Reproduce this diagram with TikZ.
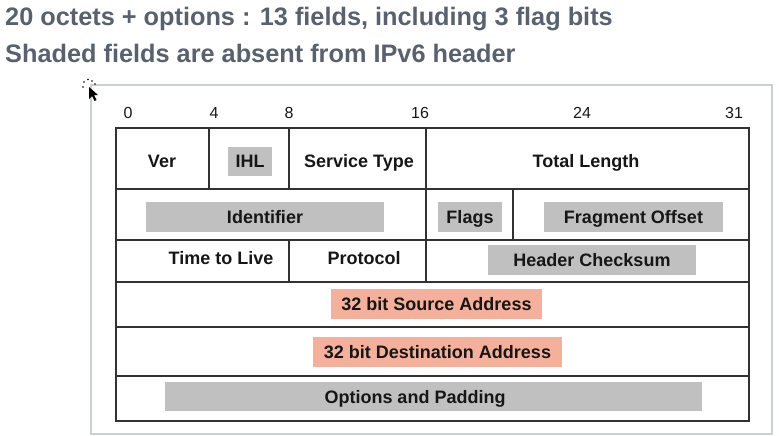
\documentclass[tikz,border=0pt]{standalone}
\usepackage{fontspec}
\setmainfont{Liberation Sans}
\definecolor{titlec}{RGB}{88,97,112}
\definecolor{framec}{RGB}{200,210,208}
\definecolor{gridc}{RGB}{50,50,50}
\definecolor{txt}{RGB}{22,22,22}
\definecolor{shade}{RGB}{192,192,192}
\definecolor{salmon}{RGB}{244,176,154}
\begin{document}
\begin{tikzpicture}[x=1pt,y=-1pt,
  title/.style={font=\fontsize{25.3}{28}\selectfont\bfseries, text=titlec, inner sep=0pt, anchor=base west},
  bitnum/.style={font=\fontsize{16}{18}\selectfont, text=txt, inner sep=0pt, text height=11.5pt, text depth=0pt},
  grid/.style={draw=gridc, line width=1.2pt},
  lbl/.style={font=\fontsize{18}{20}\selectfont\bfseries, text=txt, inner sep=0pt, text height=12.9pt, text depth=0pt},
  gbox/.style={lbl, fill=shade},
  sbox/.style={lbl, fill=salmon},
  plainbox/.style={fill=shade, draw=none, inner sep=0pt}]
\useasboundingbox (0,0) rectangle (779,436);
% titles
\node[title] (t1) at (5,26) {20 octets + options : 13 fields, including 3 flag bits};
\node[title] (t2) at (5,63) {Shaded fields are absent from IPv6 header};
% outer frame
\draw[draw=framec, line width=1.6pt] (91,85) rectangle (772,434);
% cursor
\fill[black] (89,87) -- (89,99) -- (92,96) -- (94.5,101) -- (96.5,100) -- (94,95) -- (98,95) -- cycle;
\foreach \p in {(84,82),(88,79.5),(92,81),(83,87),(95,84)}
  \fill[black] \p circle (0.9);
% bit numbers
\node[bitnum] (b0) at (128,113) {0};
\node[bitnum] (b4) at (214,113) {4};
\node[bitnum] (b8) at (289,113) {8};
\node[bitnum] (b16) at (420,113) {16};
\node[bitnum] (b24) at (582,113) {24};
\node[bitnum] (b31) at (734,113) {31};
% shaded boxes (drawn before grid)
\node[gbox, minimum width=44pt, minimum height=29pt] (ihl) at (250,161.5) {IHL};
\node[gbox, minimum width=238pt, minimum height=30pt] (ident) at (265,217) {Identifier};
\node[gbox, minimum width=64pt, minimum height=30pt] (flags) at (470,217) {Flags};
\node[gbox, minimum width=179pt, minimum height=30pt] (frag) at (633.5,217) {Fragment Offset};
\node[gbox, minimum width=208pt, minimum height=30pt] (hcs) at (592,260) {Header Checksum};
\node[sbox, minimum width=211pt, minimum height=30pt] (src) at (436.5,304) {32 bit Source Address};
\node[sbox, minimum width=249pt, minimum height=30pt] (dst) at (437.5,352) {32 bit Destination Address};
\node[plainbox, minimum width=537pt, minimum height=29pt] (optbox) at (433.5,396.5) {};
\node[lbl] (opt) at (415,396.7) {Options and Padding};
% plain labels
\node[lbl] (ver) at (162,161) {Ver};
\node[lbl] (svc) at (359,161) {Service Type};
\node[lbl] (tlen) at (586,161) {Total Length};
\node[lbl] (ttl) at (221,258) {Time to Live};
\node[lbl] (proto) at (364,258) {Protocol};
% grid
\draw[grid] (116,128) rectangle (749,421);
\foreach \y in {189,240,282,327,376} \draw[grid] (116,\y) -- (749,\y);
\foreach \x in {209,289,426} \draw[grid] (\x,128) -- (\x,189);
\foreach \x in {426,513} \draw[grid] (\x,189) -- (\x,240);
\foreach \x in {289,426} \draw[grid] (\x,240) -- (\x,282);
\end{tikzpicture}
\end{document}
